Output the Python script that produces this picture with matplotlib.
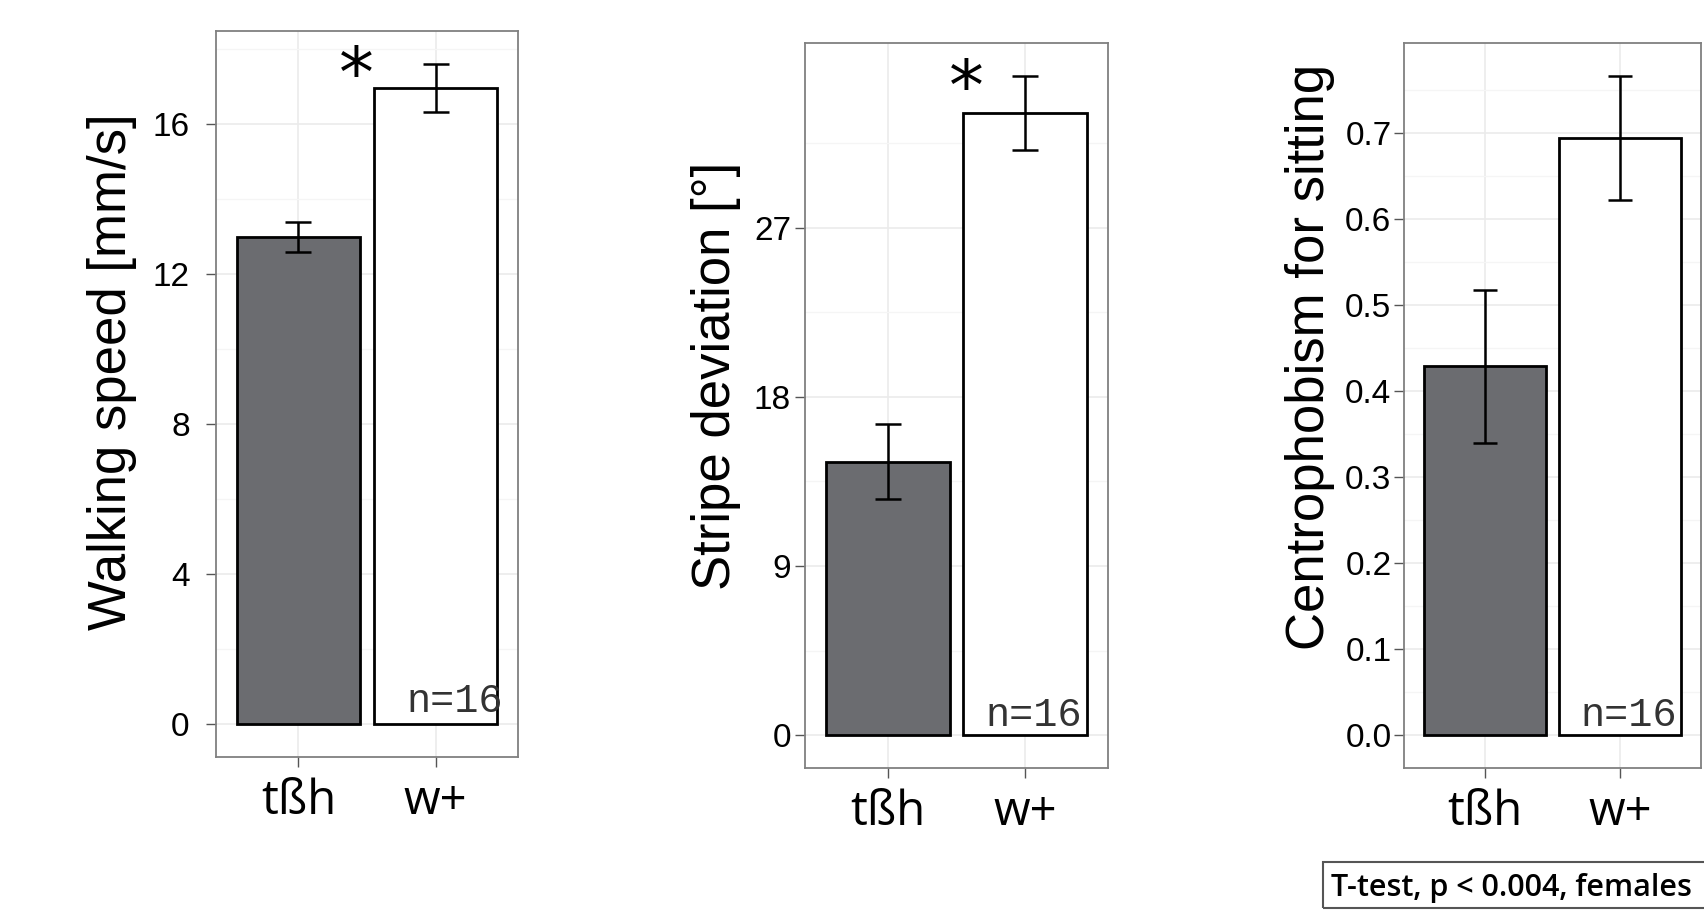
import matplotlib
matplotlib.use('Agg')
import matplotlib.pyplot as plt
import matplotlib.patches as patches
from matplotlib.ticker import FixedLocator

plt.rcParams['font.family'] = ['Liberation Sans', 'DejaVu Sans']

groups = ['tßh', 'w+']

speed_mean = [13.0, 16.95]
speed_se = [0.40, 0.64]

stripe_mean = [14.55, 33.1]
stripe_se = [2.0, 1.96]

centro_mean = [0.429, 0.694]
centro_se = [0.089, 0.072]

speed_ticks = [0, 4, 8, 12, 16]
stripe_ticks = [0, 9, 18, 27]
centro_ticks = [0.0, 0.1, 0.2, 0.3, 0.4, 0.5, 0.6, 0.7]

panels = [
    {'mean': speed_mean, 'se': speed_se, 'ticks': speed_ticks,
     'label': 'Walking speed [mm/s]', 'fmt': '{:g}', 'star': True},
    {'mean': stripe_mean, 'se': stripe_se, 'ticks': stripe_ticks,
     'label': 'Stripe deviation [°]', 'fmt': '{:g}', 'star': True},
    {'mean': centro_mean, 'se': centro_se, 'ticks': centro_ticks,
     'label': 'Centrophobism for sitting', 'fmt': '{:.1f}', 'star': False},
]

# axes placement (figure fractions) and per panel tweaks
rects = [[0.1268, 0.1681, 0.1772, 0.7973],
         [0.4724, 0.1560, 0.1778, 0.7962],
         [0.8239, 0.1560, 0.1743, 0.7962]]
label_pos = [(-0.344, 0.531), (-0.294, 0.541), (-0.316, 0.568)]
ytick_pad = [12, 3, 2]
capsizes = [9.7, 9.7, 8.3]
star_pos = [(1.42, 17.25), (1.57, 34.3)]
n_pos = [(2.49, 0.32), (2.41, 0.5), (2.42, 0.011)]

fig = plt.figure(figsize=(17.04, 9.10), dpi=100)
x = [1, 2]

for i, p in enumerate(panels):
    ax = fig.add_axes(rects[i])
    top = max(m + s for m, s in zip(p['mean'], p['se']))
    ax.set_ylim(-0.05 * top, top * 1.05)
    ax.set_xlim(0.4, 2.6)

    ax.bar(x, p['mean'], width=0.9, color=['#6b6c70', 'white'],
           edgecolor='black', linewidth=2.0, zorder=2)
    ax.errorbar(x, p['mean'], yerr=p['se'], fmt='none', ecolor='black',
                elinewidth=1.8, capsize=capsizes[i], capthick=1.8, zorder=3)

    ticks = p['ticks']
    step = ticks[1] - ticks[0]
    ax.yaxis.set_major_locator(FixedLocator(ticks))
    ax.set_yticklabels([p['fmt'].format(t) for t in ticks])
    ax.yaxis.set_minor_locator(FixedLocator([t + step / 2 for t in ticks]))
    ax.set_xticks(x)
    ax.set_xticklabels(groups, fontfamily='Open Sans', fontsize=34)

    ax.grid(True, which='major', color='#ebebeb', linewidth=1.2, zorder=0)
    ax.grid(True, which='minor', axis='y', color='#f5f5f5', linewidth=0.9, zorder=0)
    ax.set_axisbelow(True)

    ax.tick_params(axis='y', which='major', labelsize=24, length=7, width=1,
                   color='#555555', pad=ytick_pad[i], labelcolor='black')
    ax.tick_params(axis='x', which='major', length=7, width=1,
                   color='#555555', pad=8)
    ax.tick_params(which='minor', length=0)

    for sp in ax.spines.values():
        sp.set_color('#808080')
        sp.set_linewidth(1.3)

    ax.text(label_pos[i][0], label_pos[i][1], p['label'], transform=ax.transAxes,
            rotation=90, ha='center', va='center', fontsize=38)

    if p['star']:
        ax.text(star_pos[i][0], star_pos[i][1], '*', ha='center', va='center',
                fontsize=50, fontfamily='DejaVu Sans', zorder=4)

    ax.text(n_pos[i][0], n_pos[i][1], 'n=16', ha='right', va='baseline',
            fontsize=29, fontfamily='Liberation Mono', color='#333333', zorder=4)

box = patches.Rectangle((0.7762, 0.0017), 0.2273, 0.0511, transform=fig.transFigure,
                        fill=False, edgecolor='#555555', linewidth=1.5, clip_on=False)
fig.add_artist(box)
fig.text(1331 / 1704, 14 / 910, 'T-test, p < 0.004, females', fontsize=22,
         fontfamily='Open Sans', fontweight='semibold', va='baseline', ha='left')

fig.savefig('out.png', dpi=100)
